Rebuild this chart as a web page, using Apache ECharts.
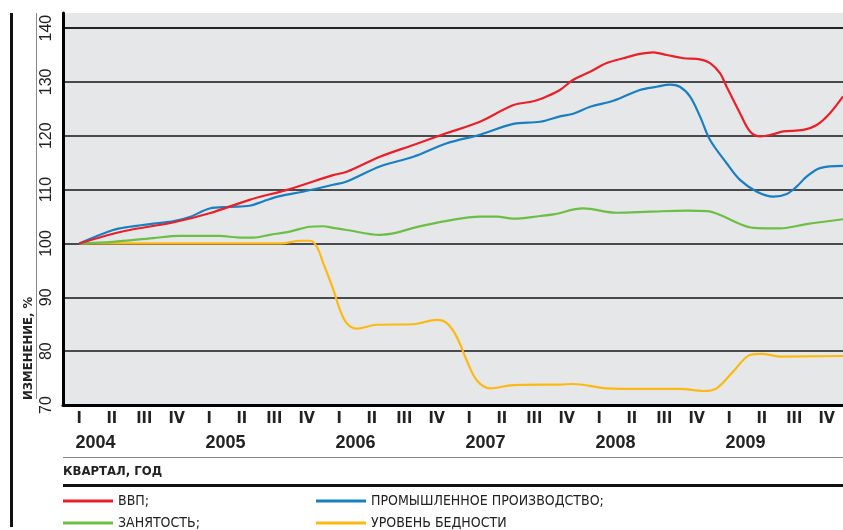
<!DOCTYPE html>
<html><head><meta charset="utf-8">
<script src="https://cdn.jsdelivr.net/npm/echarts@6/dist/echarts.min.js"></script>
<style>html,body{margin:0;padding:0;background:#fff}#c{width:843px;height:530px}</style>
</head><body><div id="c"></div>
<script>
const quarterLabels = ['I','II','III','IV','I','II','III','IV','I','II','III','IV','I','II','III','IV','I','II','III','IV','I','II','III','IV'];
const yearLabels = ['2004','','2005','','2006','','2007','','2008','','2009',''];
const yTicks = [70, 142.8, 10];
const seriesNames = ['ВВП', 'ПРОМЫШЛЕННОЕ ПРОИЗВОДСТВО', 'ЗАНЯТОСТЬ', 'УРОВЕНЬ БЕДНОСТИ'];
// [quarter index (0 = I 2004), % of I 2004]
const gdp = [[0,100],[1.04,101.8],[1.55,102.5],[2.88,103.9],[4.01,105.6],[5.24,108.1],[6.48,110.1],[7.81,112.7],[8.23,113.3],[9.25,116.1],[10.28,118.3],[11.31,120.5],[12.33,122.6],[13.36,125.7],[13.97,126.4],[14.38,127.3],[14.79,128.5],[15.2,130.4],[15.72,131.9],[16.23,133.5],[16.74,134.4],[17.25,135.2],[17.66,135.5],[18.08,135.0],[18.59,134.4],[19.1,134.2],[19.41,133.5],[19.72,131.6],[19.92,129.1],[20.33,124.2],[20.64,120.8],[20.95,119.9],[21.36,120.3],[21.66,120.8],[22.28,121.1],[22.69,122.0],[23.1,124.2],[23.5,127.3]];
const industry = [[0,100],[1.04,102.5],[1.55,103.1],[2.17,103.6],[2.88,104.1],[3.4,104.9],[4.01,106.5],[4.63,106.8],[5.24,107.0],[5.65,107.8],[6.17,108.8],[6.88,109.6],[7.81,110.9],[8.23,111.5],[9.25,114.3],[10.28,116.1],[11.31,118.6],[12.33,120.2],[13.36,122.2],[14.18,122.6],[14.79,123.6],[15.2,124.1],[15.72,125.4],[16.43,126.5],[17.25,128.5],[17.77,129.1],[18.17,129.5],[18.48,129.1],[18.79,127.3],[19.1,123.6],[19.41,119.2],[19.92,114.9],[20.33,111.8],[20.85,109.6],[21.36,108.7],[21.77,109.2],[22.08,110.6],[22.38,112.4],[22.79,114.0],[23.5,114.4]];
const employment = [[0,100],[1.04,100.3],[2.27,101.0],[3.09,101.4],[3.91,101.4],[4.32,101.4],[4.94,101.1],[5.35,101.1],[5.86,101.6],[6.48,102.2],[7.09,103.1],[7.5,103.2],[7.81,102.9],[8.23,102.5],[9.25,101.6],[9.77,102.0],[10.28,102.9],[11.31,104.2],[12.33,105.0],[12.84,105.0],[13.36,104.6],[14.18,105.1],[14.59,105.4],[15.51,106.5],[16.54,105.7],[17.56,105.9],[18.69,106.1],[19.31,106.0],[19.72,105.3],[20.33,103.6],[20.74,102.9],[21.56,102.8],[22.38,103.6],[23.5,104.5]];
const poverty = [[0,100],[3,100],[6.2,100],[6.8,100.5],[7.1,100.5],[7.31,99.4],[7.51,96.3],[7.82,91.4],[8.02,87.7],[8.23,85.2],[8.54,84.2],[9.15,84.9],[10.28,85.0],[11.0,85.8],[11.31,85.2],[11.61,82.7],[11.92,78.3],[12.23,74.6],[12.64,73.1],[13.36,73.7],[14.79,73.8],[15.2,73.9],[16.23,73.1],[17.25,73.0],[18.48,73.0],[19.2,72.6],[19.61,73.1],[20.12,76.2],[20.64,79.3],[21.0,79.5],[21.56,79.0],[23.5,79.1]];
const colors = ['#e8202a', '#1a7fc1', '#6cbe45', '#fdb913'];
const legendSuffix = [';', ';', ';', ''];

const NARROW = '"Liberation Sans Narrow", "DejaVu Sans Condensed", sans-serif';
const SANS = '"Liberation Sans", Arial, sans-serif';

const chart = echarts.init(document.getElementById('c'));
const allData = [gdp, industry, employment, poverty];
const legendPos = [[63, 494], [316, 494], [63, 516], [316, 516]];

chart.setOption({
  animation: false,
  backgroundColor: '#fff',
  grid: { left: 63, right: 0, top: 13, bottom: 125, show: true, backgroundColor: '#e6e7e8', borderWidth: 0 },
  legend: seriesNames.map((n, i) => ({
    data: [n], left: legendPos[i][0], top: legendPos[i][1], padding: 0,
    icon: 'rect', itemWidth: 50, itemHeight: 3,
    textStyle: { fontFamily: NARROW, fontSize: 14, color: '#222' },
    formatter: (name) => name + legendSuffix[seriesNames.indexOf(name)]
  })),
  xAxis: [
    { type: 'category', data: quarterLabels, boundaryGap: true, position: 'bottom',
      axisLine: { show: true, onZero: false, lineStyle: { color: '#000', width: 3 } },
      axisTick: { show: false },
      axisLabel: { interval: 0, margin: 6, fontFamily: NARROW, fontWeight: 'bold', fontSize: 16, color: '#222' } },
    { type: 'category', data: yearLabels, boundaryGap: true, position: 'bottom',
      axisLine: { show: false, onZero: false }, axisTick: { show: false },
      axisLabel: { interval: 0, margin: 29, fontFamily: SANS, fontWeight: 'bold', fontSize: 18, color: '#222' } },
    { type: 'value', min: -0.5, max: 23.5, show: false }
  ],
  yAxis: {
    type: 'value', min: yTicks[0], max: yTicks[1], interval: yTicks[2],
    axisLine: { show: true, onZero: false, lineStyle: { color: '#000', width: 3 } },
    axisTick: { show: false },
    axisLabel: { rotate: 90, margin: 8, fontFamily: SANS, fontSize: 16, color: '#222', showMaxLabel: false },
    splitLine: { show: true, lineStyle: { width: 2, color: ['#4a4a4a','#4a4a4a','#4a4a4a','#4a4a4a','#4a4a4a','#4a4a4a','#4a4a4a','#222','rgba(0,0,0,0)'] } }
  },
  series: seriesNames.map((n, i) => ({
    name: n, type: 'line', xAxisIndex: 2, data: allData[i],
    showSymbol: false, smooth: 0.35, lineStyle: { width: 2.2, color: colors[i] }, itemStyle: { color: colors[i] },
    z: 10 - i
  })),
  graphic: [
    { type: 'rect', shape: { x: 10, y: 13, width: 3, height: 514 }, style: { fill: '#111' } },
    { type: 'rect', shape: { x: 36, y: 13, width: 1, height: 386 }, style: { fill: '#888' } },
    { type: 'text', x: 29, y: 400, rotation: Math.PI / 2,
      style: { text: 'ИЗМЕНЕНИЕ, %', fontFamily: NARROW, fontWeight: 'bold', fontSize: 13, fill: '#222', textAlign: 'left', textVerticalAlign: 'middle' } },
    { type: 'rect', shape: { x: 63, y: 457, width: 780, height: 1 }, style: { fill: '#888' } },
    { type: 'text', x: 63, y: 472, style: { text: 'КВАРТАЛ, ГОД', fontFamily: NARROW, fontWeight: 'bold', fontSize: 13, fill: '#222', textVerticalAlign: 'middle' } },
    { type: 'rect', shape: { x: 63, y: 484, width: 780, height: 3 }, style: { fill: '#111' } }
  ]
});
</script></body></html>
